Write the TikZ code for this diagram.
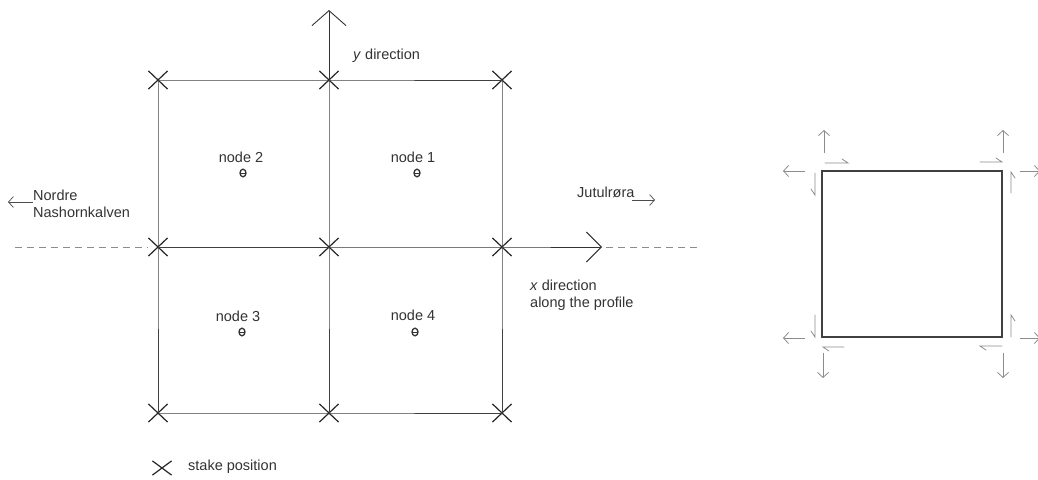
\documentclass[tikz,border=0pt]{standalone}
\usepackage{fontspec}
\setmainfont{Liberation Sans}
\usetikzlibrary{arrows.meta,shapes.misc}
\begin{document}
\begin{tikzpicture}[x=1pt,y=-1pt,
  gridline/.style={line width=0.9pt, draw=black!75},
  stakex/.style={draw=black!85, line width=1.2pt, cross out, minimum width=18pt, minimum height=17pt, inner sep=0pt},
  lbl/.style={font=\fontsize{14.5}{17}\selectfont, text=black!80, inner sep=0pt},
  axis/.style={line width=0.9pt, draw=black!80},
  dashline/.style={line width=0.7pt, draw=black!45, dash pattern=on 7pt off 5pt},
  thin arrow/.style={line width=0.7pt, draw=black!70, -{Straight Barb[length=5pt,width=11pt]}},
  greyarrow/.style={line width=0.8pt, draw=black!45, -{Straight Barb[length=5pt,width=11pt]}},
  harp/.style={line width=0.8pt, draw=black!45, line cap=round},
  ptmark/.pic={\draw[line width=1.3pt, black!80] (0,0) ellipse [x radius=3, y radius=3.8];
               \draw[line width=1pt, black!80] (-3,0) -- (3,0);}
]
\useasboundingbox[fill=white] (0,0) rectangle (1038,479);

% stake positions
\node[stakex] (tl) at (158,80) {};
\node[stakex] (tm) at (329,80) {};
\node[stakex] (tr) at (502,80) {};
\node[stakex] (ml) at (158,247) {};
\node[stakex] (mm) at (329,247) {};
\node[stakex] (mr) at (502,247) {};
\node[stakex] (bl) at (158,413) {};
\node[stakex] (bm) at (329,413) {};
\node[stakex] (br) at (502,413) {};

% grid
\draw[gridline] (tl.center) -- (tm.center) -- (tr.center);
\draw[gridline] (ml.center) -- (mm.center);
\draw[gridline] (bl.center) -- (bm.center) -- (br.center);
\draw[gridline] (tl.center) -- (ml.center) -- (bl.center);
\draw[gridline] (tm.center) -- (mm.center) -- (bm.center);
\draw[gridline] (tr.center) -- (mr.center) -- (br.center);

% axes
\coordinate (ytip) at (329,10);
\coordinate (xtip) at (602,247);
\draw[axis, -{Straight Barb[length=15pt,width=34pt]}] (tm.center) -- (ytip);
\draw[axis, -{Straight Barb[length=15pt,width=30pt]}] (mm.center) -- (mr.center) -- (xtip);
\coordinate (dl) at (15,247);
\coordinate (dr1) at (606,247);
\coordinate (dr2) at (700,247);
\draw[dashline] (dl) -- (ml.west);
\draw[dashline] (dr1) -- (dr2);

% labels
\node[lbl, anchor=base west] (ydir) at (353,59.5) {\textit{y} direction};
\node[lbl, anchor=base] (n2) at (241,162) {node 2};
\node[lbl, anchor=base] (n1) at (413,162) {node 1};
\node[lbl, anchor=base] (n3) at (238,321) {node 3};
\node[lbl, anchor=base] (n4) at (413,320) {node 4};
\pic at (243,173) {ptmark};
\pic at (417,173) {ptmark};
\pic at (242,332) {ptmark};
\pic at (415,332) {ptmark};

\node[lbl, anchor=base west] (nordre) at (33,200) {Nordre};
\node[lbl, anchor=base west] (nash) at (33,217) {Nashornkalven};
\coordinate (nstart) at (33,202);
\coordinate (nend) at (8,202);
\draw[thin arrow] (nstart) -- (nend);

\node[lbl, anchor=base west] (jut) at (577,197) {Jutulrøra};
\coordinate (jstart) at (632,200);
\coordinate (jend) at (655,200);
\draw[thin arrow] (jstart) -- (jend);

\node[lbl, anchor=base west] (xdir) at (530,290) {\textit{x} direction};
\node[lbl, anchor=base west] (along) at (530,307) {along the profile};

\node[stakex, minimum height=13pt] (legend) at (162,468) {};
\node[lbl, anchor=base west] (legtext) at (188,470) {stake position};

% right square
\coordinate (A) at (822,171);
\coordinate (B) at (1002,171);
\coordinate (C) at (1002,337);
\coordinate (D) at (822,337);
\draw[line width=1.3pt, black!75] (A) -- (B) -- (C) -- (D) -- cycle;

% top-left
\draw[greyarrow] (824,153) -- (824,130);
\draw[greyarrow] (805,171) -- (783,171);
\draw[harp] (825,163) -- (848,163) -- ++(-6,-4);
\draw[harp] (815,173) -- (815,195) -- ++(-4,-6);
% top-right
\draw[greyarrow] (1003,153) -- (1003,130);
\draw[greyarrow] (1020,171) -- (1040,171);
\draw[harp] (980,162) -- (1002,162) -- ++(-6,-4);
\draw[harp] (1011,193) -- (1011,172) -- ++(4,6);
% bottom-left
\draw[greyarrow] (805,338) -- (783,338);
\draw[greyarrow] (823,353) -- (823,378);
\draw[harp] (815,315) -- (815,337) -- ++(-4,-6);
\draw[harp] (844,347) -- (823,347) -- ++(6,4);
% bottom-right
\draw[greyarrow] (1020,338) -- (1040,338);
\draw[greyarrow] (1003,353) -- (1003,378);
\draw[harp] (1011,337) -- (1011,315) -- ++(4,6);
\draw[harp] (1002,346) -- (980,346) -- ++(6,4);
\end{tikzpicture}
\end{document}
